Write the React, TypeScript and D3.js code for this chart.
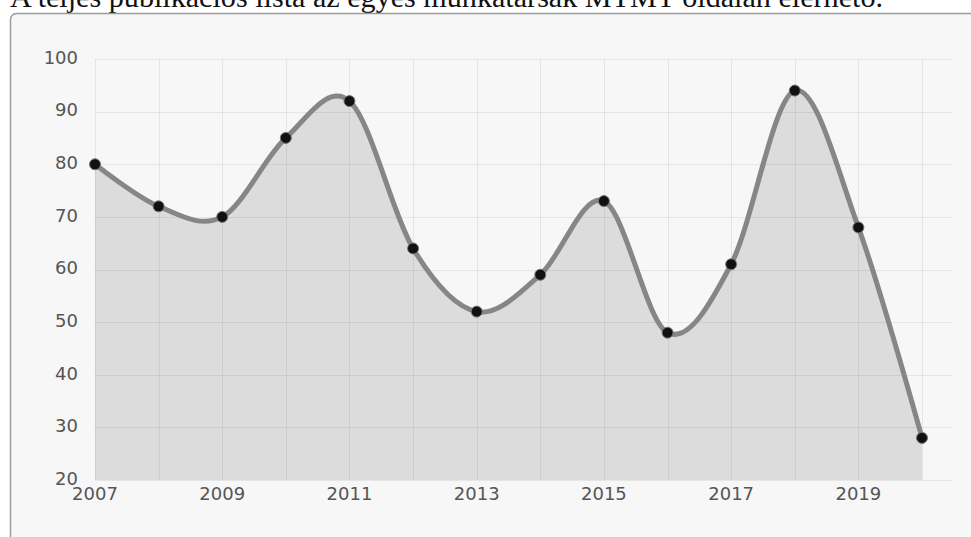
import React, { useEffect, useRef } from "react";
import * as d3 from "d3";

const years = [2007, 2008, 2009, 2010, 2011, 2012, 2013, 2014, 2015, 2016, 2017, 2018, 2019, 2020];
const publications = [80, 72, 70, 85, 92, 64, 52, 59, 73, 48, 61, 94, 68, 28];
const yTicks = [20, 30, 40, 50, 60, 70, 80, 90, 100];
const xTickLabels = [2007, 2009, 2011, 2013, 2015, 2017, 2019];
const title = "A teljes publikációs lista az egyes munkatársak MTMT oldalán elérhető.";

const W = 971;
const H = 537;

export default function App() {
  const ref = useRef<SVGSVGElement | null>(null);

  useEffect(() => {
    const svg = d3.select(ref.current);
    svg.selectAll("*").remove();

    const margin = { left: 95, right: 49, top: 59, bottom: 57 };
    const x = d3.scaleLinear().domain([2007, 2020]).range([margin.left, W - margin.right]);
    const y = d3.scaleLinear().domain([20, 100]).range([H - margin.bottom, margin.top]);
    const gridRight = x(2020) + 30;

    // caption above the box (scrolled partly out of view in the original)
    svg.append("text")
      .attr("x", 10)
      .attr("y", 7)
      .attr("font-family", "Liberation Serif, serif")
      .attr("font-size", 29)
      .attr("textLength", 873)
      .attr("lengthAdjust", "spacingAndGlyphs")
      .attr("fill", "#111")
      .text(title);

    // panel
    svg.append("rect")
      .attr("x", 10.5)
      .attr("y", 13.5)
      .attr("width", 1000)
      .attr("height", 600)
      .attr("rx", 6)
      .attr("fill", "#f7f7f7")
      .attr("stroke", "#9a9a9a")
      .attr("stroke-width", 1.5);

    const curve = d3.curveCatmullRom.alpha(0);
    const points: [number, number][] = years.map((yr, i) => [yr, publications[i]]);

    const area = d3.area<[number, number]>()
      .x(d => x(d[0]))
      .y0(y(20))
      .y1(d => y(d[1]))
      .curve(curve);

    svg.append("path")
      .datum(points)
      .attr("d", area)
      .attr("fill", "#dcdcdc");

    // grid drawn over the area, faint
    const grid = svg.append("g").attr("stroke", "rgba(0,0,0,0.065)").attr("stroke-width", 1);
    grid.selectAll("line.h")
      .data(yTicks)
      .join("line")
      .attr("class", "h")
      .attr("x1", x(2007))
      .attr("x2", gridRight)
      .attr("y1", d => Math.round(y(d)) + 0.5)
      .attr("y2", d => Math.round(y(d)) + 0.5);
    grid.selectAll("line.v")
      .data(years)
      .join("line")
      .attr("class", "v")
      .attr("x1", d => Math.round(x(d)) + 0.5)
      .attr("x2", d => Math.round(x(d)) + 0.5)
      .attr("y1", y(100))
      .attr("y2", y(20));

    const line = d3.line<[number, number]>()
      .x(d => x(d[0]))
      .y(d => y(d[1]))
      .curve(curve);

    svg.append("path")
      .datum(points)
      .attr("d", line)
      .attr("fill", "none")
      .attr("stroke", "#868686")
      .attr("stroke-width", 5)
      .attr("stroke-linecap", "round");

    svg.append("g")
      .selectAll("circle")
      .data(points)
      .join("circle")
      .attr("cx", d => x(d[0]))
      .attr("cy", d => y(d[1]))
      .attr("r", 5.5)
      .attr("fill", "#111")
      .attr("stroke", "#777")
      .attr("stroke-width", 1);

    // y axis labels
    svg.append("g")
      .selectAll("text")
      .data(yTicks)
      .join("text")
      .attr("x", 78)
      .attr("y", d => y(d) - 1.5)
      .attr("dy", "0.35em")
      .attr("text-anchor", "end")
      .attr("font-family", "DejaVu Sans, Verdana, sans-serif")
      .attr("font-size", 18)
      .attr("fill", "#555")
      .text(d => d);

    // x axis labels
    svg.append("g")
      .selectAll("text")
      .data(xTickLabels)
      .join("text")
      .attr("x", d => x(d))
      .attr("y", y(20) + 19.5)
      .attr("text-anchor", "middle")
      .attr("font-family", "DejaVu Sans, Verdana, sans-serif")
      .attr("font-size", 18)
      .attr("fill", "#555")
      .text(d => d);
  }, []);

  return (
    <svg
      ref={ref}
      width={W}
      height={H}
      style={{ position: "absolute", left: 0, top: 0, background: "#fff" }}
    />
  );
}
